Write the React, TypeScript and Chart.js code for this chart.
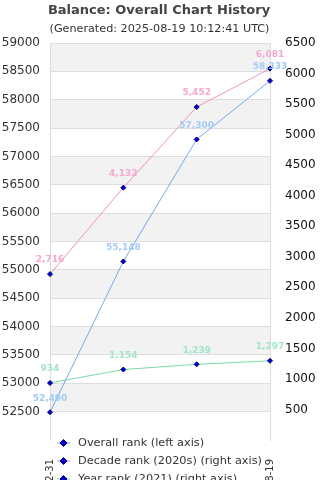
import React, { useEffect, useRef } from "react";
import { Chart, registerables } from "chart.js";

Chart.register(...registerables);

const titleText = "Balance: Overall Chart History";
const subtitleText = "(Generated: 2025-08-19 10:12:41 UTC)";
const xLabels = ["2021-12-31", "2022-12-31", "2023-12-31", "2025-08-19"];
const overallRank = [52490, 55148, 57300, 58333];
const decadeRank = [2716, 4132, 5452, 6081];
const yearRank = [934, 1154, 1239, 1297];
const seriesNames = [
  "Overall rank (left axis)",
  "Decade rank (2020s) (right axis)",
  "Year rank (2021) (right axis)",
];
const lineColors = ["#72aaee", "#f090c2", "#78dda9"];
const labelColors = ["#a3cbf5", "#f5a8d0", "#a3e6c3"];
const leftMin = 52000, leftMax = 59000, leftStep = 500;
const rightMin = 0, rightMax = 6500, rightStep = 500;

const FONT = "'DejaVu Sans', sans-serif";

const decorPlugin = {
  id: "decor",
  beforeDraw(chart: any) {
    const { ctx, chartArea, scales } = chart;
    const y = scales.y;
    ctx.save();
    let i = 0;
    for (let v = leftMin; v < leftMax; v += leftStep, i++) {
      if (i % 2 === 1) {
        const top = y.getPixelForValue(v + leftStep);
        const bot = y.getPixelForValue(v);
        ctx.fillStyle = "#f2f2f2";
        ctx.fillRect(chartArea.left, top, chartArea.right - chartArea.left, bot - top);
      }
    }
    ctx.textAlign = "center";
    ctx.textBaseline = "middle";
    ctx.fillStyle = "#444";
    ctx.font = `bold 13px ${FONT}`;
    ctx.fillText(titleText, 159, 11);
    ctx.fillStyle = "#333";
    ctx.font = `11.2px ${FONT}`;
    ctx.fillText(subtitleText, 159.5, 29);
    ctx.restore();
  },
  afterDatasetsDraw(chart: any) {
    const { ctx } = chart;
    ctx.save();
    ctx.font = `bold 9px ${FONT}`;
    ctx.textAlign = "center";
    ctx.textBaseline = "middle";
    chart.data.datasets.forEach((ds: any, di: number) => {
      const meta = chart.getDatasetMeta(di);
      meta.data.forEach((pt: any, i: number) => {
        ctx.fillStyle = labelColors[di];
        ctx.fillText(Number(ds.data[i]).toLocaleString("en-US"), pt.x, pt.y - 14);
      });
    });
    ctx.restore();
  },
  afterDraw(chart: any) {
    const { ctx } = chart;
    ctx.save();
    seriesNames.forEach((name, i) => {
      const cy = 443 + i * 18;
      ctx.strokeStyle = lineColors[i];
      ctx.lineWidth = 1;
      ctx.beginPath();
      ctx.moveTo(57, cy);
      ctx.lineTo(70, cy);
      ctx.stroke();
      ctx.fillStyle = "#0000dd";
      ctx.strokeStyle = "#000066";
      ctx.beginPath();
      ctx.moveTo(63.5, cy - 3.5);
      ctx.lineTo(67, cy);
      ctx.lineTo(63.5, cy + 3.5);
      ctx.lineTo(60, cy);
      ctx.closePath();
      ctx.fill();
      ctx.stroke();
      ctx.fillStyle = "#333";
      ctx.font = `11.3px ${FONT}`;
      ctx.textAlign = "left";
      ctx.textBaseline = "middle";
      ctx.fillText(name, 78, cy);
    });
    ctx.restore();
  },
};

export default function App() {
  const ref = useRef<HTMLCanvasElement>(null);
  useEffect(() => {
    if (!ref.current) return;
    const pointOpts = {
      pointStyle: "rectRot",
      pointRadius: 2.5,
      pointBackgroundColor: "#0000dd",
      pointBorderColor: "#000066",
      pointBorderWidth: 1,
      borderWidth: 1,
      tension: 0,
    };
    const chart = new Chart(ref.current, {
      type: "line",
      data: {
        labels: xLabels,
        datasets: [
          { label: seriesNames[0], data: overallRank, borderColor: lineColors[0], yAxisID: "y", ...pointOpts },
          { label: seriesNames[1], data: decadeRank, borderColor: lineColors[1], yAxisID: "y1", ...pointOpts },
          { label: seriesNames[2], data: yearRank, borderColor: lineColors[2], yAxisID: "y1", ...pointOpts },
        ] as any,
      },
      options: {
        responsive: false,
        animation: false,
        layout: { padding: { top: 43, left: 0, right: 0, bottom: 0 } },
        plugins: { legend: { display: false }, title: { display: false }, tooltip: { enabled: false } },
        scales: {
          x: {
            offset: false,
            grid: { display: false, drawTicks: false },
            border: { display: false },
            ticks: {
              autoSkip: false,
              minRotation: 90,
              maxRotation: 90,
              padding: 19,
              color: "#333",
              font: { family: FONT, size: 10 },
              callback: (v: any, i: number) => (i === 0 || i === xLabels.length - 1 ? xLabels[i] : ""),
            },
            afterFit: (s: any) => { s.height = 40; },
          },
          y: {
            position: "left",
            min: leftMin,
            max: leftMax,
            grid: {
              drawTicks: false,
              color: (c: any) => (c.tick && c.tick.value === leftMin ? "rgba(0,0,0,0)" : "#dddddd"),
            },
            border: { display: true, color: "#dddddd" },
            ticks: {
              stepSize: leftStep,
              padding: 10,
              color: "#333",
              font: { family: FONT, size: 12 },
              callback: (v: any) => (v === leftMin ? "" : String(v)),
            },
            afterFit: (s: any) => { s.width = 50; },
          },
          y1: {
            position: "right",
            min: rightMin,
            max: rightMax,
            grid: { display: false, drawTicks: false },
            border: { display: true, color: "#dddddd" },
            ticks: {
              stepSize: rightStep,
              padding: 15,
              color: "#111",
              font: { family: FONT, size: 12 },
              callback: (v: any) => (v === rightMin ? "" : String(v)),
            },
            afterFit: (s: any) => { s.width = 50; },
          },
        },
      } as any,
      plugins: [decorPlugin],
    });
    return () => chart.destroy();
  }, []);
  return (
    <div style={{ position: "fixed", left: 0, top: 0, width: 320, height: 480, background: "#fff" }}>
      <canvas ref={ref} width={320} height={480} />
    </div>
  );
}
